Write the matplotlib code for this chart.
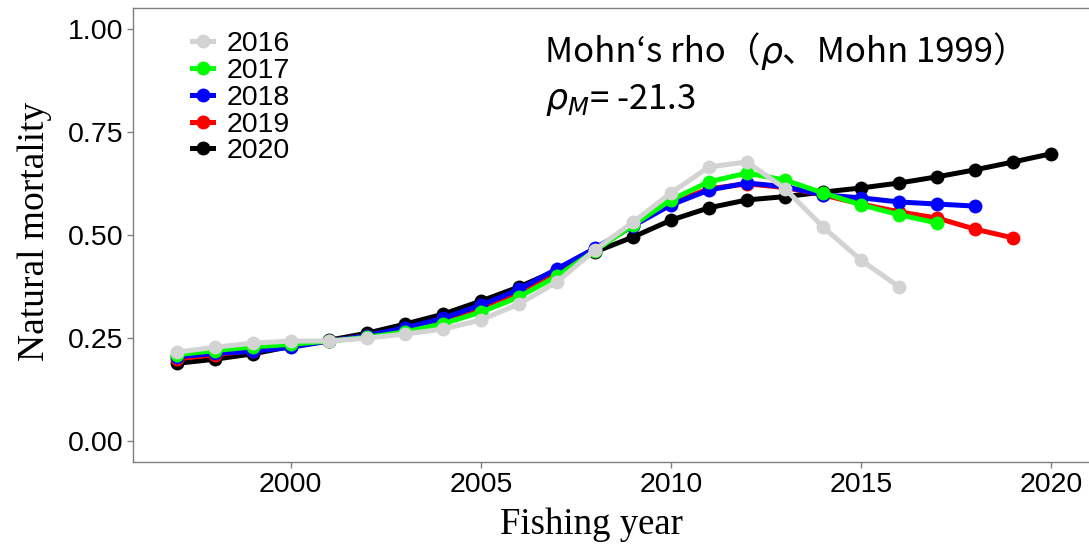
import matplotlib
matplotlib.use("Agg")
import matplotlib.pyplot as plt

# data
years = list(range(1997, 2021))
labels = ["2016", "2017", "2018", "2019", "2020"]
colors = ["#D3D3D3", "#00FF00", "#0000FF", "#FF0000", "#000000"]

m2016 = [0.216, 0.228, 0.238, 0.243, 0.243, 0.250, 0.260, 0.272, 0.294, 0.333,
         0.386, 0.464, 0.531, 0.602, 0.665, 0.677, 0.612, 0.519, 0.439, 0.374]
m2017 = [0.210, 0.220, 0.229, 0.235, 0.243, 0.252, 0.265, 0.285, 0.313, 0.350,
         0.400, 0.462, 0.524, 0.585, 0.629, 0.650, 0.633, 0.602, 0.573, 0.549, 0.529]
m2018 = [0.205, 0.213, 0.218, 0.228, 0.243, 0.256, 0.275, 0.298, 0.330, 0.368,
         0.418, 0.468, 0.522, 0.573, 0.609, 0.626, 0.617, 0.597, 0.590, 0.580, 0.575, 0.570]
m2019 = [0.200, 0.210, 0.220, 0.230, 0.243, 0.256, 0.272, 0.293, 0.325, 0.362,
         0.410, 0.465, 0.524, 0.578, 0.612, 0.624, 0.615, 0.597, 0.575, 0.556, 0.541, 0.514, 0.493]
m2020 = [0.189, 0.199, 0.212, 0.230, 0.245, 0.262, 0.284, 0.308, 0.340, 0.374,
         0.415, 0.459, 0.495, 0.536, 0.566, 0.585, 0.593, 0.604, 0.614, 0.626, 0.641, 0.658, 0.677, 0.697]
series = [m2016, m2017, m2018, m2019, m2020]

xticks = [2000, 2005, 2010, 2015, 2020]
yticks = [0.00, 0.25, 0.50, 0.75, 1.00]

plt.rcParams["font.family"] = ["Liberation Sans", "DejaVu Sans"]

fig = plt.figure(figsize=(10.89, 5.5), dpi=100)
ax = fig.add_axes([133 / 1089, 88 / 550, 962 / 1089, 454 / 550])

# draw order: black at the bottom, grey on top
order = [4, 2, 3, 1, 0]
handles = {}
for i in order:
    x = years[:len(series[i])]
    h, = ax.plot(x, series[i], color=colors[i], lw=3.6, marker="o", ms=10,
                 markeredgewidth=0, label=labels[i], zorder=2 + (4 - i) * 0.1)
    handles[i] = h

ax.set_xlim(1995.85, 2021.15)
ax.set_ylim(-0.05, 1.05)
ax.set_xticks(xticks)
ax.set_yticks(yticks)
ax.set_yticklabels([f"{v:.2f}" for v in yticks])
ax.tick_params(direction="out", length=4, width=1, color="#7f7f7f",
               labelsize=20.5, labelcolor="black", pad=3)
for s in ax.spines.values():
    s.set_color("#7f7f7f")
    s.set_linewidth(1)

ax.set_xlabel("Fishing year", family=["Liberation Serif"], fontsize=26.5)
ax.set_ylabel("Natural mortality", family=["Liberation Serif"], fontsize=27)
ax.xaxis.set_label_coords((591 - 133) / 962, -0.1)
ax.yaxis.set_label_coords((52 - 133) / 962, (462 - 231) / 454)

ax.legend([handles[i] for i in range(5)], labels, loc="upper left",
          bbox_to_anchor=((192 - 133) / 962, (462 - 31) / 454), frameon=False,
          fontsize=20.5, handlelength=0.75, handletextpad=0.45, labelspacing=0.03,
          borderaxespad=0, borderpad=0)

# annotation text
fs = 25
t1 = ax.text(0.428, 0.88, "Mohn‘s rho（", transform=ax.transAxes, fontsize=fs,
             family=["Noto Sans CJK JP", "DejaVu Sans"], va="baseline")
t2 = ax.annotate("ρ", xy=(1, 0), xycoords=t1, fontsize=fs, va="bottom",
                 family=["DejaVu Sans"], style="italic")
t3 = ax.annotate("、Mohn 1999）", xy=(1, 0), xycoords=t1, xytext=(16, 0),
                 textcoords="offset points", fontsize=fs, va="bottom",
                 family=["Noto Sans CJK JP", "DejaVu Sans"])
ax.text(0.428, 0.777, r"$\rho_M$= -21.3", transform=ax.transAxes, fontsize=fs,
        family=["Noto Sans CJK JP", "DejaVu Sans"], va="baseline")

fig.savefig("out.png", dpi=100)
